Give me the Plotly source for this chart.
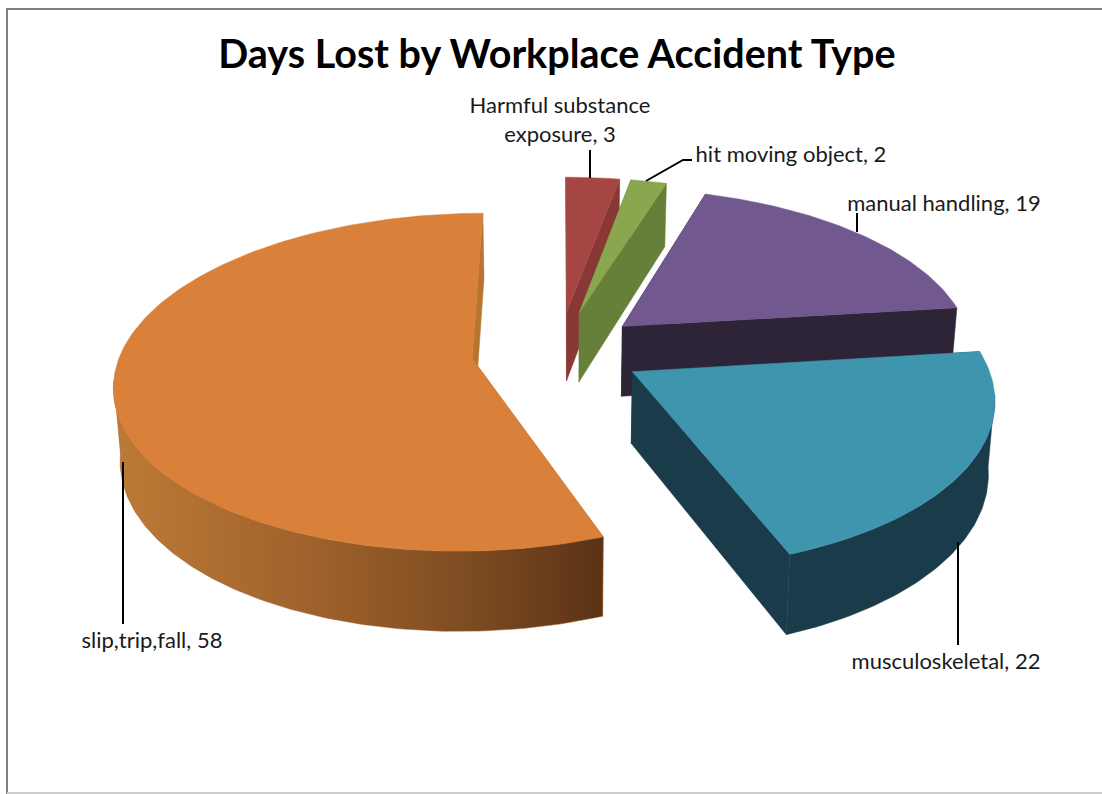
import math
import plotly.graph_objects as go

# ---- data ----
categories = ["Harmful substance exposure", "hit moving object", "manual handling",
              "musculoskeletal", "slip,trip,fall"]
values = [3, 2, 19, 22, 58]

# ---- styles ----
top_colors = ["#A64644", "#8AA74E", "#71588F", "#3F94AE", "#D9813A"]
side_colors = ["#8A3836", "#678039", "#2D2438", "#1A3C4A", "#B8752F"]
rim_gradient = [[0, "#BE7A36"], [0.4, "#A0622C"], [0.75, "#7A4A20"], [0.92, "#65391A"], [1, "#5A3415"]]
explode = [0.25, 0.25, 0.24, 0.24, 0.25]

label_text = ["Harmful substance<br>exposure, 3", "hit moving object, 2",
              "manual handling, 19", "musculoskeletal, 22", "slip,trip,fall, 58"]
label_x = [560, 791, 944, 946, 152]
label_y = [122, 156, 205, 663, 642]
leader_x = [[590, 590], [646, 683, 692], [857, 857], [958, 958], [123, 123]]
leader_y = [[150, 178], [181, 160, 160], [213, 232], [542, 645], [462, 624]]

# ---- projection of the tilted pie ----
CX, CY, A, B, K, DEPTH, SHRINK = 559, 351, 351, 163.5, 0.14, 71, 0.985
RIM_LIMIT = -0.12


def top(X, Y):
    s = 1 / (1 + K * Y)
    return CX + A * X * s, CY - B * Y * s


def bottom(X, Y):
    s = 1 / (1 + K * Y)
    x, y = top(X, Y)
    return CX + (x - CX) * SHRINK, CY + (y - CY) * SHRINK + DEPTH * s


def poly(points, color, gradient=None):
    xs = [p[0] for p in points] + [points[0][0]]
    ys = [p[1] for p in points] + [points[0][1]]
    kw = {}
    if gradient:
        kw["fillgradient"] = dict(type="horizontal", colorscale=gradient)
    else:
        kw["fillcolor"] = color
    return go.Scatter(x=xs, y=ys, mode="lines", fill="toself",
                      line=dict(color=color, width=0.5), hoverinfo="skip", **kw)


fig = go.Figure()
total = sum(values)
start = 0.0
for i, v in enumerate(values):
    sweep = v / total * 2 * math.pi
    mid = start + sweep / 2
    ox, oy = explode[i] * math.sin(mid), explode[i] * math.cos(mid)
    n = max(4, int(sweep * 60))
    arc = [(ox + math.sin(start + sweep * j / n), oy + math.cos(start + sweep * j / n))
           for j in range(n + 1)]
    apex = (ox, oy)
    # radial walls
    for edge in (arc[0], arc[-1]):
        fig.add_trace(poly([top(*apex), top(*edge), bottom(*edge), bottom(*apex)], side_colors[i]))
    # outer rim: the part turned towards the viewer
    visible = [p for p in arc if p[1] - oy < RIM_LIMIT]
    if len(visible) > 1:
        pts = [top(*p) for p in visible] + [bottom(*p) for p in reversed(visible)]
        if i == len(values) - 1:
            fig.add_trace(poly(pts, "#96592A", rim_gradient))
        else:
            fig.add_trace(poly(pts, side_colors[i]))
    # top face
    fig.add_trace(poly([top(*apex)] + [top(*p) for p in arc], top_colors[i]))
    start += sweep

# leader lines
for xs, ys in zip(leader_x, leader_y):
    fig.add_trace(go.Scatter(x=xs, y=ys, mode="lines", line=dict(color="#000000", width=2),
                             hoverinfo="skip"))

# labels
fig.add_trace(go.Scatter(x=label_x, y=label_y, mode="text", text=label_text,
                         textposition="middle center",
                         textfont=dict(family="Lato", size=22, color="#1A1A1A"),
                         hoverinfo="skip"))

fig.update_layout(
    width=1102, height=794, autosize=False,
    margin=dict(l=0, r=0, t=0, b=0),
    paper_bgcolor="#FFFFFF", plot_bgcolor="#FFFFFF",
    showlegend=False,
    title=dict(text="<b>Days Lost by Workplace Accident Type</b>",
               x=0.5054, xanchor="center", y=0.932, yanchor="middle",
               font=dict(family="Lato", size=39.5, color="#000000")),
    xaxis=dict(range=[0, 1102], visible=False, fixedrange=True),
    yaxis=dict(range=[794, 0], visible=False, fixedrange=True),
    shapes=[
        dict(type="line", xref="paper", yref="paper", x0=7 / 1102, x1=7 / 1102,
             y0=0, y1=1 - 9 / 794, line=dict(color="#808080", width=2)),
        dict(type="line", xref="paper", yref="paper", x0=6 / 1102, x1=1,
             y0=1 - 9 / 794, y1=1 - 9 / 794, line=dict(color="#808080", width=2)),
        dict(type="line", xref="paper", yref="paper", x0=7 / 1102, x1=1,
             y0=1 / 794, y1=1 / 794, line=dict(color="#CCCCCC", width=2)),
    ],
)

fig.write_html("out.html", config=dict(displayModeBar=False),
               post_script="document.body.style.margin='0';document.body.style.overflow='hidden';")
